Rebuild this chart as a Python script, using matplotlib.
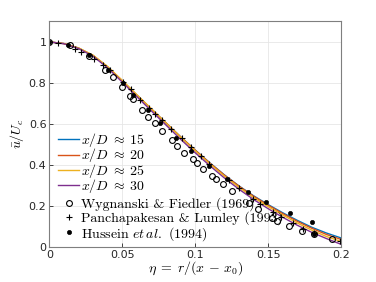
import numpy as np
import matplotlib
matplotlib.use('Agg')
from matplotlib import pyplot as plt

plt.rcParams['mathtext.fontset'] = 'cm'
plt.rcParams['font.family'] = ['DejaVu Sans']

# ---------- profiles -------------------------------------------------------
eta = [0.00, 0.01, 0.02, 0.03, 0.04, 0.05, 0.06, 0.07, 0.08, 0.09, 0.10,
       0.11, 0.12, 0.13, 0.14, 0.15, 0.16, 0.17, 0.18, 0.19, 0.20]
u_15 = [1.000, 0.992, 0.970, 0.933, 0.877, 0.810, 0.740, 0.672, 0.604, 0.537,
        0.472, 0.410, 0.351, 0.297, 0.249, 0.206, 0.166, 0.129, 0.095, 0.067,
        0.043]
u_20 = [1.000, 0.992, 0.970, 0.934, 0.878, 0.811, 0.741, 0.673, 0.605, 0.537,
        0.472, 0.409, 0.350, 0.296, 0.247, 0.203, 0.162, 0.124, 0.090, 0.060,
        0.036]
u_25 = [1.000, 0.992, 0.971, 0.935, 0.880, 0.812, 0.742, 0.673, 0.604, 0.535,
        0.469, 0.405, 0.345, 0.290, 0.240, 0.196, 0.155, 0.116, 0.081, 0.050,
        0.026]
u_30 = [1.000, 0.991, 0.968, 0.930, 0.873, 0.804, 0.733, 0.663, 0.594, 0.525,
        0.459, 0.396, 0.336, 0.281, 0.231, 0.186, 0.144, 0.105, 0.070, 0.040,
        0.012]

# Wygnanski & Fiedler (1969)
wf_eta = [0.0, 0.0142, 0.0275, 0.0382, 0.0435, 0.0497, 0.0554, 0.0577, 0.0634,
          0.068, 0.0725, 0.0771, 0.084, 0.0874, 0.0927, 0.0984, 0.1011, 0.1057,
          0.1117, 0.1144, 0.1194, 0.1252, 0.1366, 0.1428, 0.1526, 0.156,
          0.1645, 0.1732, 0.1812, 0.1938]
wf_u = [1.0, 0.987, 0.930, 0.865, 0.829, 0.780, 0.735, 0.719, 0.670, 0.634,
        0.605, 0.566, 0.520, 0.493, 0.460, 0.426, 0.411, 0.382, 0.345, 0.330,
        0.304, 0.272, 0.215, 0.182, 0.138, 0.125, 0.101, 0.078, 0.062, 0.039]

# Panchapakesan & Lumley (1993)
pl_eta = [0.0062, 0.0176, 0.022, 0.0309, 0.037, 0.0416, 0.0503, 0.056, 0.0622,
          0.0686, 0.0725, 0.0776, 0.0835, 0.0908, 0.097, 0.104, 0.1098, 0.1229,
          0.130, 0.1394, 0.1446, 0.1533, 0.1588, 0.1668, 0.1737, 0.1812,
          0.1995]
pl_u = [0.995, 0.967, 0.951, 0.915, 0.886, 0.862, 0.805, 0.772, 0.715, 0.678,
        0.650, 0.621, 0.577, 0.530, 0.488, 0.444, 0.402, 0.325, 0.285, 0.231,
        0.208, 0.171, 0.146, 0.114, 0.085, 0.065, 0.029]

# Hussein et al. (1994)
hu_eta = [0.0, 0.013, 0.0275, 0.0405, 0.0503, 0.0577, 0.068, 0.076, 0.0867,
          0.097, 0.1098, 0.1217, 0.1359, 0.1485, 0.1652, 0.1801, 0.1812]
hu_u = [1.0, 0.987, 0.935, 0.862, 0.800, 0.740, 0.670, 0.602, 0.533, 0.468,
        0.395, 0.333, 0.265, 0.220, 0.166, 0.119, 0.060]

fig = plt.figure(figsize=(3.76, 2.82), dpi=100)
ax = fig.add_axes([0.131, 0.125, 0.776, 0.799])

lines = []
lines += ax.plot(eta, u_15, color='#0072BD', lw=1.0, label=r'$x/D \;\approx\; 15$')
lines += ax.plot(eta, u_20, color='#D95319', lw=1.0, label=r'$x/D \;\approx\; 20$')
lines += ax.plot(eta, u_25, color='#EDB120', lw=1.0, label=r'$x/D \;\approx\; 25$')
lines += ax.plot(eta, u_30, color='#7E2F8E', lw=1.0, label=r'$x/D \;\approx\; 30$')
marks = []
marks += ax.plot(wf_eta, wf_u, 'o', mfc='none', mec='k', ms=4.2, mew=0.8,
                 label='Wygnanski & Fiedler (1969)')
marks += ax.plot(pl_eta, pl_u, '+', color='k', ms=5, mew=0.8,
                 label='Panchapakesan & Lumley (1993)')
marks += ax.plot(hu_eta, hu_u, 'o', color='k', ms=3.0, mew=0.5,
                 label=r'Hussein $\mathit{et\,al.}$ (1994)')

ax.set_xlim(0, 0.2)
ax.set_ylim(0, 1.1)
ax.set_xticks([0, 0.05, 0.1, 0.15, 0.2])
ax.set_xticklabels(['0', '0.05', '0.1', '0.15', '0.2'])
ax.set_yticks([0, 0.2, 0.4, 0.6, 0.8, 1.0])
ax.set_yticklabels(['0', '0.2', '0.4', '0.6', '0.8', '1'])
ax.tick_params(direction='in', labelsize=8, colors='#262626', length=3,
               width=0.6, pad=2)
for s in ax.spines.values():
    s.set_color('#7f7f7f')
    s.set_linewidth(0.8)
ax.grid(True, color='#e6e6e6', lw=0.6)
ax.set_axisbelow(True)

ax.set_xlabel(r'$\eta \;=\; r/(x \,-\, x_0)$', fontsize=10, labelpad=0)
ax.set_ylabel(r'$\bar{u}/U_c$', fontsize=10, labelpad=2)

leg_kw = dict(frameon=False, prop={'family': 'cmr10', 'size': 10},
              handlelength=1.5, handletextpad=0.1, borderpad=0.3)
leg1 = ax.legend(handles=lines, loc='lower left', bbox_to_anchor=(0.017, 0.212),
                 labelspacing=-0.2, borderaxespad=0.0, **leg_kw)
ax.add_artist(leg1)
ax.legend(handles=marks, loc='lower left', bbox_to_anchor=(0.017, 0.0),
          labelspacing=0.0, borderaxespad=0.0, **leg_kw)

fig.savefig('out.png', dpi=100)
